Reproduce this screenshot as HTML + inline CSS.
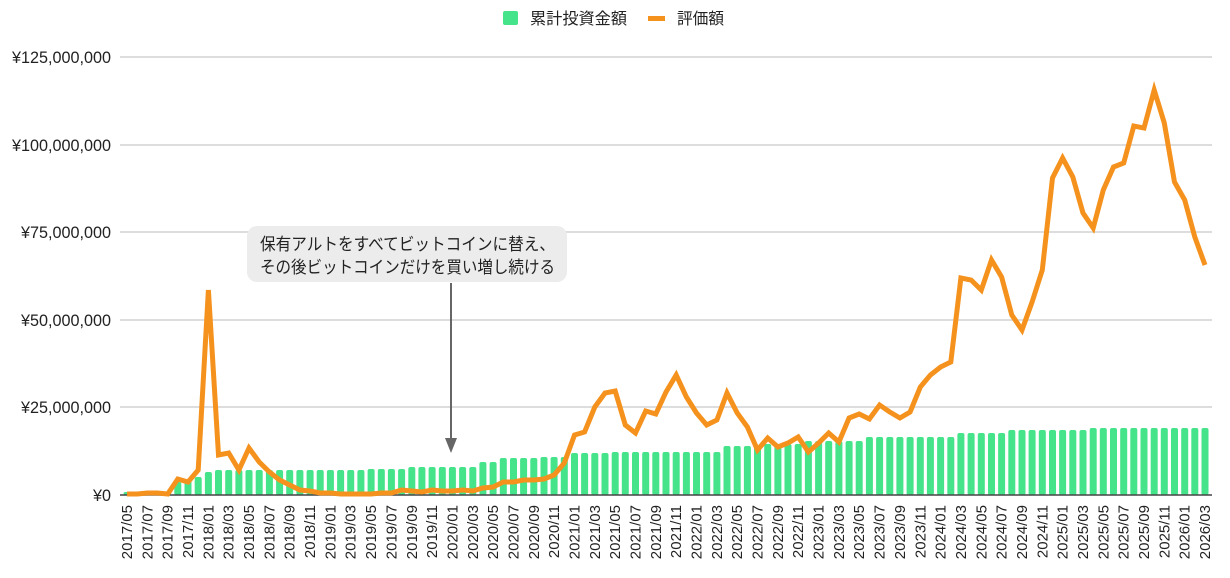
<!DOCTYPE html>
<html><head><meta charset="utf-8"><style>
body{margin:0;background:#fff;}
svg text{font-family:"Liberation Sans","Noto Sans CJK JP",sans-serif;}
</style></head><body>
<svg width="1230" height="573" xmlns="http://www.w3.org/2000/svg" id="c">
<rect width="1230" height="573" fill="#fff"/>
<g stroke="#ddd" stroke-width="2">
<line x1="120" x2="1212" y1="57" y2="57"/>
<line x1="120" x2="1212" y1="145" y2="145"/>
<line x1="120" x2="1212" y1="232" y2="232"/>
<line x1="120" x2="1212" y1="320" y2="320"/>
<line x1="120" x2="1212" y1="407" y2="407"/>
</g>
<g font-size="16.2" fill="#222" text-anchor="end">
<text x="111" y="63">¥125,000,000</text>
<text x="111" y="151">¥100,000,000</text>
<text x="111" y="238">¥75,000,000</text>
<text x="111" y="326">¥50,000,000</text>
<text x="111" y="413">¥25,000,000</text>
<text x="111" y="501">¥0</text>
</g>
<g id="bars" fill="#45e38a"></g>
<line x1="120" x2="1212" y1="495" y2="495" stroke="#444" stroke-width="1.5"/>
<polyline id="ln" fill="none" stroke="#f5921e" stroke-width="5" stroke-linejoin="miter"/>
<g id="xl" font-size="15" fill="#222"></g>
<rect x="247" y="226" width="320" height="56" rx="10" fill="#ececec"/>
<text x="260" y="250" font-size="17" fill="#222" textLength="295" lengthAdjust="spacingAndGlyphs">保有アルトをすべてビットコインに替え、</text>
<text x="260" y="273" font-size="17" fill="#222" textLength="295" lengthAdjust="spacingAndGlyphs">その後ビットコインだけを買い増し続ける</text>
<line x1="451" y1="283" x2="451" y2="440" stroke="#666" stroke-width="2"/>
<polygon points="445,438 457,438 451,453" fill="#666"/>
<rect x="503" y="11" width="15" height="14" rx="2" fill="#45e38a"/>
<text x="530" y="24" font-size="16" fill="#222" textLength="97" lengthAdjust="spacingAndGlyphs">累計投資金額</text>
<rect x="648" y="16" width="17" height="5" fill="#f5921e"/>
<text x="677" y="24" font-size="16" fill="#222" textLength="47" lengthAdjust="spacingAndGlyphs">評価額</text>
</svg>
<script>
var ly=[494,494,493,493,494,479,482,470,290,455,453,470,448,462,472,480,485,490,491,493,493,494,494,494,494,493,493,490,491,492,490,491,491,490,491,488,487,482,482,480,480,479,475,463,435,432,407,393,391,425,433,411,414,392,375,397,413,425,420,393,413,427,450,438,447,443,437,452,443,433,442,418,414,419,405,412,418,412,387,375,367,362,278,280,290,260,277,315,330,302,270,178,158,177,213,228,190,167,163,126,128,90,123,182,200,237,265];
function bt(i){if(i<5)return 492;if(i==5)return 482;if(i==6)return 480;if(i==7)return 477;if(i==8)return 472;if(i<24)return 470;if(i<28)return 469;if(i<35)return 467;if(i<37)return 462;if(i<41)return 458;if(i<44)return 457;if(i<48)return 453;if(i<59)return 452;if(i<63)return 446;if(i<67)return 444;if(i<73)return 441;if(i<82)return 437;if(i<87)return 433;if(i<95)return 430;return 428;}
var ns="http://www.w3.org/2000/svg",pts=[],b=document.getElementById('bars'),xl=document.getElementById('xl');
for(var i=0;i<107;i++){var x=127+i*10.17;pts.push(x.toFixed(1)+','+ly[i]);
var r=document.createElementNS(ns,'rect');var t=bt(i);r.setAttribute('x',(x-3.5).toFixed(1));r.setAttribute('y',t);r.setAttribute('width',7);r.setAttribute('height',495-t);r.setAttribute('rx',2);b.appendChild(r);
if(i%2==0){var m=(4+i)%12+1,y=2017+Math.floor((4+i)/12);var s=y+'/'+(m<10?'0':'')+m;var tx=document.createElementNS(ns,'text');tx.setAttribute('transform','translate('+(x+5).toFixed(1)+',505) rotate(-90)');tx.setAttribute('text-anchor','end');tx.textContent=s;xl.appendChild(tx);}}
document.getElementById('ln').setAttribute('points',pts.join(' '));
</script>
</body></html>
